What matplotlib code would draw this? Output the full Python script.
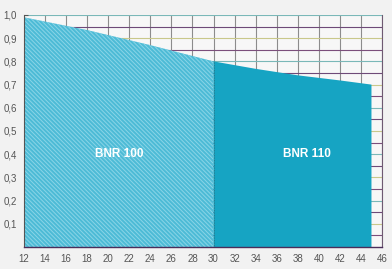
import matplotlib
matplotlib.use("Agg")
import matplotlib.pyplot as plt
import numpy as np

plt.rcParams['font.family'] = ['Liberation Sans', 'DejaVu Sans']
plt.rcParams['hatch.linewidth'] = 0.7

# Data
x_bnr100 = [12, 18, 24, 30]
y_bnr100 = [0.99, 0.935, 0.87, 0.80]
x_bnr110 = [30, 34, 38, 42, 45]
y_bnr110 = [0.80, 0.768, 0.740, 0.718, 0.70]
labels = ["BNR 100", "BNR 110"]
x_ticks = list(range(12, 47, 2))
y_ticks = [0.1, 0.2, 0.3, 0.4, 0.5, 0.6, 0.7, 0.8, 0.9, 1.0]
y_ticklabels = [f"{v:.1f}".replace(".", ",") for v in y_ticks]

fig = plt.figure(figsize=(3.92, 2.69), dpi=100, facecolor="#f2f2f2")
ax = fig.add_axes([24/392, 22/269, (382-24)/392, (247-15)/269])
ax.set_facecolor("#f7f7f7")

ax.set_xlim(12, 46)
ax.set_ylim(0, 1.0)

# grid
for xv in x_ticks[1:]:
    ax.axvline(xv, color="#8c8c8c", lw=0.8, zorder=1)
hcols = ["#7b4e7b", "#c9c88a", "#6e4a78", "#7ab8b8"]
for i, yv in enumerate(np.arange(0.05, 1.001, 0.05)):
    ax.axhline(yv, color=hcols[i % len(hcols)], lw=0.8, zorder=1)

ax.fill_between(x_bnr100, 0, y_bnr100, facecolor="#4dbbd6", edgecolor="#8ad5e7",
                hatch="\\" * 8, lw=0, zorder=2)
ax.fill_between(x_bnr110, 0, y_bnr110, facecolor="#16a4c3", edgecolor="none",
                lw=0, zorder=2)
ax.plot([30, 30], [0, 0.80], color="#2a6f80", lw=0.6, ls=(0, (1, 1)), zorder=3)

ax.text(21.0, 0.40, labels[0], color="white", fontsize=8.5, fontweight="bold",
        ha="center", va="center", zorder=4)
ax.text(38.9, 0.40, labels[1], color="white", fontsize=8.5, fontweight="bold",
        ha="center", va="center", zorder=4)

ax.set_xticks(x_ticks)
ax.set_xticklabels([str(v) for v in x_ticks])
ax.set_yticks(y_ticks)
ax.set_yticklabels(y_ticklabels)
ax.set_yticks(np.arange(0.05, 1.0, 0.1), minor=True)
ax.tick_params(axis="x", length=0, pad=5, labelsize=7, labelcolor="#555555")
ax.tick_params(axis="y", which="both", direction="in", length=3, width=0.8,
               color="#555555", pad=5, labelsize=7, labelcolor="#555555")

ax.spines["top"].set_visible(False)
ax.spines["left"].set_color("#555555")
ax.spines["left"].set_linewidth(0.8)
ax.spines["bottom"].set_color("#4a2d5a")
ax.spines["bottom"].set_linewidth(1.0)
ax.spines["right"].set_color("#6e5a72")
ax.spines["right"].set_linewidth(0.8)
for s in ax.spines.values():
    s.set_zorder(5)

fig.savefig("out.png", dpi=100, facecolor=fig.get_facecolor())
